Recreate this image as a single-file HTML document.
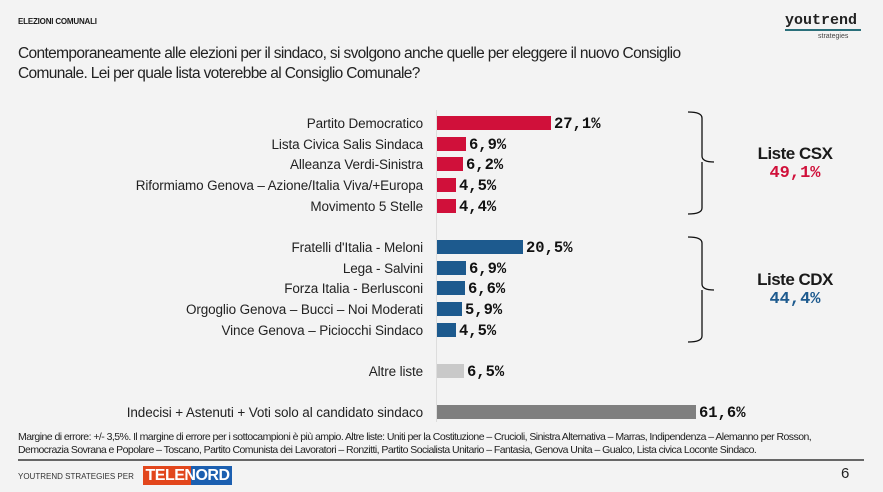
<!DOCTYPE html>
<html><head><meta charset="utf-8"><style>
body{margin:0;width:883px;height:492px;background:#f3f3f3;position:relative;overflow:hidden;font-family:"Liberation Sans",sans-serif;color:#1a1a1a}
.a{position:absolute;white-space:nowrap}
.lbl{position:absolute;right:460px;font-size:13.5px;letter-spacing:-0.12px;color:#222;line-height:16px}
.bar{position:absolute;left:437px;height:14px}
.val{position:absolute;font-family:"Liberation Mono",monospace;font-weight:bold;font-size:15.5px;line-height:16px;color:#111}
.m{font-family:"Liberation Mono",monospace;font-weight:bold}
</style></head><body>
<div class="a" style="left:18px;top:17px;font-size:8px;font-weight:bold;letter-spacing:-0.2px">ELEZIONI COMUNALI</div>
<div class="a m" style="left:785px;top:12px;font-size:15px;color:#222">youtrend</div>
<div class="a" style="left:785px;top:29px;width:76px;height:2px;background:#2a6f7a"></div>
<div class="a" style="left:818px;top:33px;font-size:7px;color:#444">strategies</div>
<div class="a" style="left:18px;top:44px;font-size:15.5px;line-height:20px;letter-spacing:-0.65px;color:#222">Contemporaneamente alle elezioni per il sindaco, si svolgono anche quelle per eleggere il nuovo Consiglio<br>Comunale. Lei per quale lista voterebbe al Consiglio Comunale?</div>
<div class="a" style="left:436px;top:110px;width:1px;height:312px;background:#ddd"></div>
<svg class="a" style="left:0;top:0" width="883" height="492">
<path d="M688 112 Q702 112 702 118 L702 156 Q702 162 714 162 M702 162 Q702 168 702 174 L702 208 Q702 214 688 214" fill="none" stroke="#111" stroke-width="1.3"/>
<path d="M688 237 Q702 237 702 243 L702 284 Q702 290 714 290 M702 290 Q702 296 702 302 L702 336 Q702 342 688 342" fill="none" stroke="#111" stroke-width="1.3"/>
</svg>
<div class="a" style="left:740px;top:144px;width:110px;text-align:center;font-size:17px;font-weight:bold;letter-spacing:-0.5px">Liste CSX</div>
<div class="a m" style="left:740px;top:164px;width:110px;text-align:center;font-size:17px;color:#d0103a">49,1%</div>
<div class="a" style="left:740px;top:270px;width:110px;text-align:center;font-size:17px;font-weight:bold;letter-spacing:-0.5px">Liste CDX</div>
<div class="a m" style="left:740px;top:290px;width:110px;text-align:center;font-size:17px;color:#1d5a8e">44,4%</div>

<div class="lbl" style="top:116px">Partito Democratico</div><div class="bar" style="top:116px;width:114px;background:#d0103a"></div><div class="val" style="top:116px;left:554px">27,1%</div>
<div class="lbl" style="top:137px">Lista Civica Salis Sindaca</div><div class="bar" style="top:137px;width:29px;background:#d0103a"></div><div class="val" style="top:137px;left:469px">6,9%</div>
<div class="lbl" style="top:157px">Alleanza Verdi-Sinistra</div><div class="bar" style="top:157px;width:26px;background:#d0103a"></div><div class="val" style="top:157px;left:466px">6,2%</div>
<div class="lbl" style="top:178px">Riformiamo Genova – Azione/Italia Viva/+Europa</div><div class="bar" style="top:178px;width:19px;background:#d0103a"></div><div class="val" style="top:178px;left:459px">4,5%</div>
<div class="lbl" style="top:199px">Movimento 5 Stelle</div><div class="bar" style="top:199px;width:19px;background:#d0103a"></div><div class="val" style="top:199px;left:459px">4,4%</div>

<div class="lbl" style="top:240px">Fratelli d'Italia - Meloni</div><div class="bar" style="top:240px;width:86px;background:#1d5a8e"></div><div class="val" style="top:240px;left:526px">20,5%</div>
<div class="lbl" style="top:261px">Lega - Salvini</div><div class="bar" style="top:261px;width:29px;background:#1d5a8e"></div><div class="val" style="top:261px;left:469px">6,9%</div>
<div class="lbl" style="top:281px">Forza Italia - Berlusconi</div><div class="bar" style="top:281px;width:28px;background:#1d5a8e"></div><div class="val" style="top:281px;left:468px">6,6%</div>
<div class="lbl" style="top:302px">Orgoglio Genova – Bucci – Noi Moderati</div><div class="bar" style="top:302px;width:25px;background:#1d5a8e"></div><div class="val" style="top:302px;left:465px">5,9%</div>
<div class="lbl" style="top:323px">Vince Genova – Piciocchi Sindaco</div><div class="bar" style="top:323px;width:19px;background:#1d5a8e"></div><div class="val" style="top:323px;left:459px">4,5%</div>

<div class="lbl" style="top:364px">Altre liste</div><div class="bar" style="top:364px;width:27px;background:#c9c9c9"></div><div class="val" style="top:364px;left:467px">6,5%</div>
<div class="lbl" style="top:405px">Indecisi + Astenuti + Voti solo al candidato sindaco</div><div class="bar" style="top:405px;width:259px;background:#7f7f7f"></div><div class="val" style="top:405px;left:699px">61,6%</div>

<div class="a" style="left:18px;top:431px;font-size:10.5px;line-height:13px;letter-spacing:-0.55px;color:#222">Margine di errore: +/- 3,5%. Il margine di errore per i sottocampioni è più ampio. Altre liste: Uniti per la Costituzione – Crucioli, Sinistra Alternativa – Marras, Indipendenza – Alemanno per Rosson,<br>Democrazia Sovrana e Popolare – Toscano, Partito Comunista dei Lavoratori – Ronzitti, Partito Socialista Unitario – Fantasia, Genova Unita – Gualco, Lista civica Loconte Sindaco.</div>
<div class="a" style="left:18px;top:459px;width:846px;height:2px;background:#666"></div>
<div class="a" style="left:18px;top:472px;font-size:8px;color:#333">YOUTREND STRATEGIES PER</div>
<div class="a" style="left:143px;top:466px;width:89px;height:19px;background:linear-gradient(90deg,#e2461c 0 54%,#1b5fb0 54%);color:#fff;font-weight:bold;font-size:16px;line-height:19px;text-align:center;letter-spacing:-0.5px">TELENORD</div>
<div class="a" style="left:841px;top:465px;font-size:15px;color:#222">6</div>
</body></html>
